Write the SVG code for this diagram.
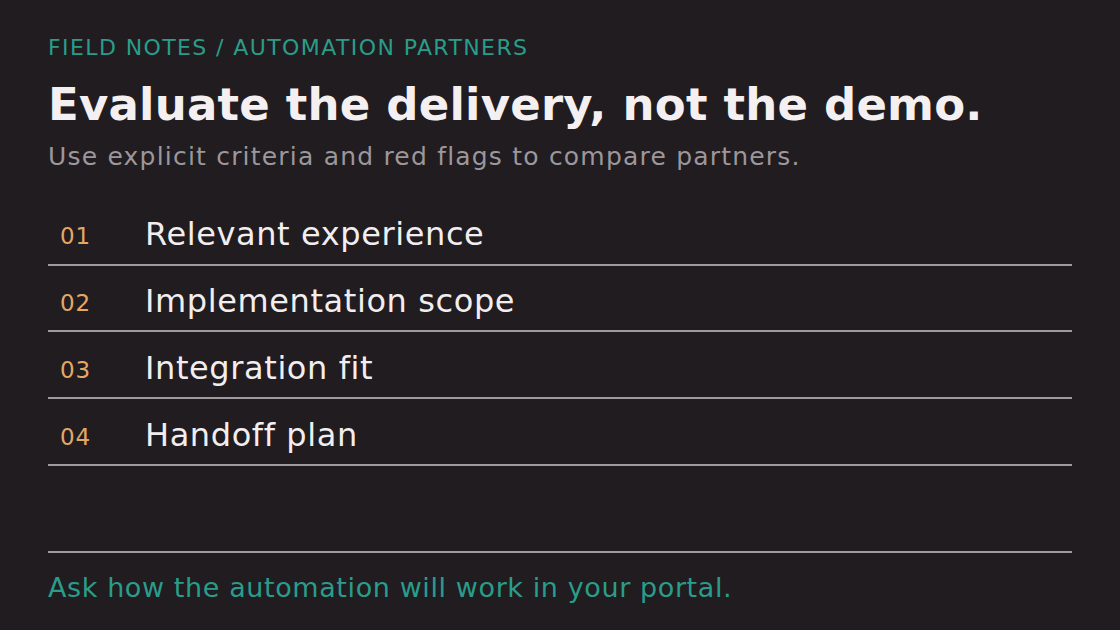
<svg xmlns="http://www.w3.org/2000/svg" width="1120" height="630" viewBox="0 0 1120 630">
<style>
text{font-family:"DejaVu Sans",sans-serif}
.num{fill:#e3a865;font-size:23px;letter-spacing:0.8px}
.lbl{fill:#f2eef0;font-size:32px;letter-spacing:0.6px}
.rule{stroke:#a09a9e;stroke-width:2}
.teal{fill:#2a9d8a}
</style>
<rect width="1120" height="630" fill="#201c20"/>
<g id="header">
<text class="teal" x="48" y="55" font-size="22" letter-spacing="1.4">FIELD NOTES / AUTOMATION PARTNERS</text>
<text x="48" y="120" font-size="45" font-weight="bold" fill="#f4f0f2" letter-spacing="0.2">Evaluate the delivery, not the demo.</text>
<text x="48" y="165" font-size="25" fill="#9c979b" letter-spacing="1.2">Use explicit criteria and red flags to compare partners.</text>
</g>
<g id="row1"><text class="num" x="60" y="244">01</text><text class="lbl" x="145" y="245">Relevant experience</text></g>
<g id="row2"><text class="num" x="60" y="311">02</text><text class="lbl" x="145" y="312">Implementation scope</text></g>
<g id="row3"><text class="num" x="60" y="378">03</text><text class="lbl" x="145" y="379">Integration fit</text></g>
<g id="row4"><text class="num" x="60" y="445">04</text><text class="lbl" x="145" y="446">Handoff plan</text></g>
<g id="connectors">
<line class="rule" x1="48" y1="265" x2="1072" y2="265"/>
<line class="rule" x1="48" y1="331" x2="1072" y2="331"/>
<line class="rule" x1="48" y1="398" x2="1072" y2="398"/>
<line class="rule" x1="48" y1="465" x2="1072" y2="465"/>
<line class="rule" x1="48" y1="552" x2="1072" y2="552"/>
</g>
<g id="footer"><text class="teal" x="48" y="597" font-size="27" letter-spacing="0.6">Ask how the automation will work in your portal.</text></g>
</svg>
